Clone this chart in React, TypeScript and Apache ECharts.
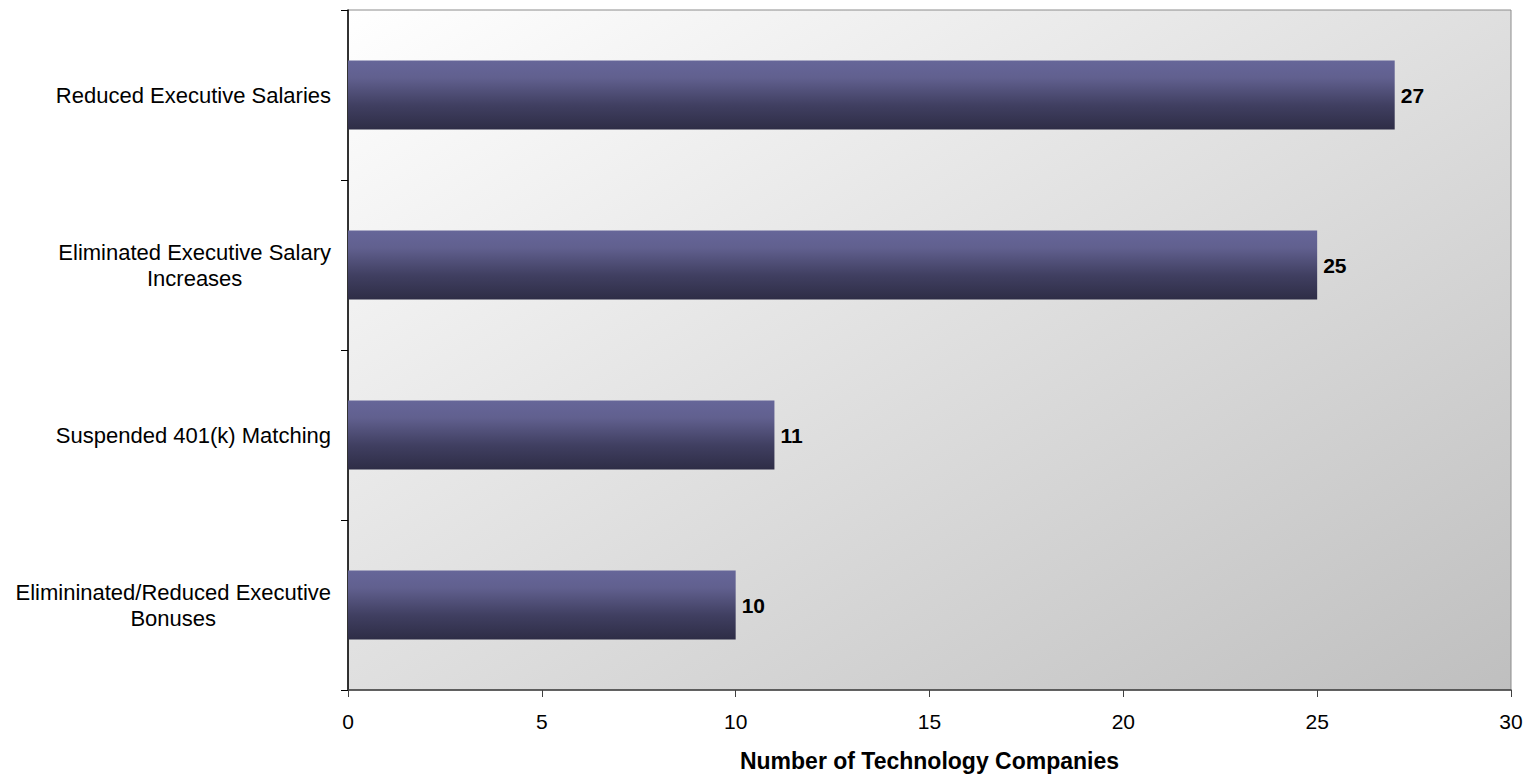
import React, { useEffect, useRef } from "react";
import * as echarts from "echarts";

const categories = [
  "Elimininated/Reduced Executive\nBonuses",
  "Suspended 401(k) Matching",
  "Eliminated Executive Salary\nIncreases",
  "Reduced Executive Salaries",
];
const values = [10, 11, 25, 27];
const xTicks = { min: 0, max: 30, interval: 5 };
const xAxisName = "Number of Technology Companies";

export default function App() {
  const ref = useRef<HTMLDivElement>(null);
  useEffect(() => {
    if (!ref.current) return;
    const chart = echarts.init(ref.current, undefined, { renderer: "svg" });
    const font = "Liberation Sans, Arial, sans-serif";
    chart.setOption({
      animation: false,
      backgroundColor: "#ffffff",
      grid: {
        left: 348,
        right: 20,
        top: 10,
        bottom: 85,
        show: true,
        borderColor: "#8c8c8c",
        borderWidth: 1,
        backgroundColor: {
          type: "linear",
          x: 0,
          y: 0,
          x2: 1,
          y2: 1,
          colorStops: [
            { offset: 0, color: "#ffffff" },
            { offset: 1, color: "#bfbfbf" },
          ],
        },
      },
      xAxis: {
        type: "value",
        min: xTicks.min,
        max: xTicks.max,
        interval: xTicks.interval,
        name: xAxisName,
        nameLocation: "middle",
        nameGap: 59,
        nameTextStyle: { fontFamily: font, fontSize: 23, fontWeight: "bold", color: "#000" },
        axisLine: { show: true, lineStyle: { color: "#404040", width: 1.5 } },
        axisTick: { show: true, length: 7, lineStyle: { color: "#404040" } },
        axisLabel: { fontFamily: font, fontSize: 21, color: "#000", margin: 21 },
        splitLine: { show: false },
      },
      yAxis: {
        type: "category",
        data: categories,
        axisLine: { show: true, lineStyle: { color: "#000", width: 1.5 } },
        axisTick: { show: true, length: 7, lineStyle: { color: "#000" } },
        axisLabel: {
          margin: 17,
          formatter: (v: string) =>
            v
              .split("\n")
              .map((l) => `{c|${l}}`)
              .join("\n"),
          rich: {
            c: {
              fontFamily: font,
              fontSize: 22,
              color: "#000",
              align: "center",
              lineHeight: 26,
            },
          },
        },
      },
      series: [
        {
          type: "bar",
          data: values,
          barWidth: 69,
          itemStyle: {
            color: {
              type: "linear",
              x: 0,
              y: 0,
              x2: 0,
              y2: 1,
              colorStops: [
                { offset: 0, color: "#666699" },
                { offset: 0.25, color: "#61608f" },
                { offset: 0.65, color: "#403f61" },
                { offset: 1, color: "#2e2d46" },
              ],
            },
          },
          label: {
            show: true,
            position: "right",
            distance: 6,
            fontFamily: font,
            fontSize: 21,
            fontWeight: "bold",
            color: "#000",
          },
        },
      ],
    });
    return () => chart.dispose();
  }, []);
  return <div ref={ref} style={{ width: 1531, height: 777, position: "absolute", left: 0, top: 0 }} />;
}
